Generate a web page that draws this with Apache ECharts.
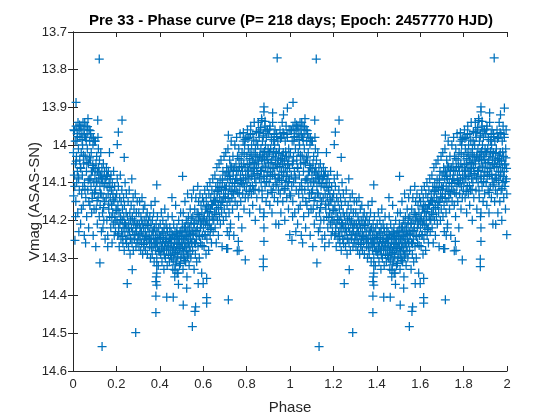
<!DOCTYPE html>
<html>
<head>
<meta charset="UTF-8">
<title>Pre 33 - Phase curve</title>
<script src="https://cdn.jsdelivr.net/npm/echarts@6/dist/echarts.min.js"></script>
<style>html,body{margin:0;padding:0;background:#fff;}</style>
</head>
<body>
<div id="chart" style="width:560px;height:420px;"></div>
<script>
// [phase, Vmag] for one cycle; the plot repeats it at phase + 1
const seg0 = [
  [0.002,14.02],[0.004,13.96],[0.006,14.08],[0.008,14.11],[0.010,13.99],[0.011,14.05],[0.013,14.15],[0.014,13.95],
  [0.016,14.03],[0.017,14.10],[0.019,13.97],[0.020,14.07],[0.022,14.18],[0.023,13.94],[0.025,14.01],[0.026,14.09],
  [0.028,13.96],[0.029,14.12],[0.031,14.04],[0.032,13.98],[0.034,14.06],[0.035,14.21],[0.037,13.95],[0.038,14.02],
  [0.040,14.13],[0.041,13.97],[0.043,14.08],[0.044,14.00],[0.046,13.94],[0.047,14.16],[0.049,14.05],[0.003,14.135],
  [0.012,14.19],[0.027,14.23],[0.018,13.99],[0.033,13.955],[0.045,14.11],[0.039,14.17],
  [0.051,13.96],[0.053,14.10],[0.054,13.94],[0.056,14.03],[0.057,13.98],[0.059,14.14],[0.060,13.95],[0.062,14.07],
  [0.063,14.19],[0.065,13.97],[0.066,14.01],[0.068,14.12],[0.069,13.93],[0.071,14.05],[0.072,14.22],[0.074,13.96],
  [0.075,14.09],[0.077,13.99],[0.078,14.16],[0.080,14.04],[0.081,13.97],[0.083,14.11],[0.084,14.02],[0.086,14.18],
  [0.087,13.98],[0.089,14.07],[0.090,14.13],[0.092,14.00],[0.093,14.24],[0.095,14.06],[0.096,14.10],[0.098,13.99],
  [0.058,14.26],[0.073,14.15],[0.082,14.09],[0.097,14.17],
  [0.101,14.08],[0.103,13.99],[0.104,14.12],[0.106,14.05],[0.107,14.17],[0.109,14.03],[0.110,14.10],[0.112,14.21],
  [0.113,14.07],[0.115,13.98],[0.116,14.14],[0.118,14.06],[0.119,14.09],[0.121,14.19],[0.122,14.04],[0.124,14.11],
  [0.125,14.16],[0.127,14.08],[0.128,14.02],[0.130,14.13],[0.131,14.23],[0.133,14.06],[0.134,14.10],[0.136,14.18],
  [0.137,14.09],[0.139,14.14],[0.140,14.05],[0.142,14.20],[0.143,14.11],[0.145,14.07],[0.146,14.15],[0.148,14.25],
  [0.105,14.27],[0.117,14.01],[0.138,14.22],
  [0.151,14.09],[0.153,14.14],[0.154,14.06],[0.156,14.20],[0.157,14.11],[0.159,14.08],[0.160,14.24],[0.162,14.13],
  [0.163,14.07],[0.165,14.17],[0.166,14.10],[0.168,14.02],[0.169,14.19],[0.171,14.09],[0.172,14.14],[0.174,14.22],
  [0.175,14.08],[0.177,14.12],[0.178,14.16],[0.180,14.26],[0.181,14.10],[0.183,14.18],[0.184,14.13],[0.186,14.21],
  [0.187,14.07],[0.189,14.15],[0.190,14.24],[0.192,14.11],[0.193,14.19],[0.195,14.14],[0.196,14.23],[0.198,14.17]
];
const seg1 = [
  [0.201,14.13],[0.203,14.20],[0.204,14.09],[0.206,14.24],[0.207,14.16],[0.209,14.11],[0.210,14.22],[0.212,14.18],
  [0.213,14.27],[0.215,14.14],[0.216,14.21],[0.218,14.08],[0.219,14.19],[0.221,14.25],[0.222,14.15],[0.224,14.23],
  [0.225,14.12],[0.227,14.20],[0.228,14.17],[0.230,14.26],[0.231,14.22],[0.233,14.14],[0.234,14.19],[0.236,14.28],
  [0.237,14.16],[0.239,14.23],[0.240,14.10],[0.242,14.21],[0.243,14.25],[0.245,14.18],[0.246,14.13],[0.248,14.22],
  [0.251,14.19],[0.253,14.24],[0.254,14.15],[0.256,14.27],[0.257,14.21],[0.259,14.12],[0.260,14.23],[0.262,14.18],
  [0.263,14.29],[0.265,14.20],[0.266,14.25],[0.268,14.16],[0.269,14.22],[0.271,14.09],[0.272,14.26],[0.274,14.19],
  [0.275,14.23],[0.277,14.14],[0.278,14.28],[0.280,14.21],[0.281,14.17],[0.283,14.25],[0.284,14.20],[0.286,14.24],
  [0.287,14.13],[0.289,14.22],[0.290,14.27],[0.292,14.18],[0.293,14.23],[0.295,14.26],[0.296,14.15],[0.298,14.21],
  [0.301,14.24],[0.303,14.18],[0.304,14.27],[0.306,14.21],[0.307,14.15],[0.309,14.25],[0.310,14.22],[0.312,14.28],
  [0.313,14.19],[0.315,14.23],[0.316,14.26],[0.318,14.14],[0.319,14.21],[0.321,14.29],[0.322,14.24],[0.324,14.17],
  [0.325,14.22],[0.327,14.27],[0.328,14.20],[0.330,14.25],[0.331,14.16],[0.333,14.23],[0.334,14.28],[0.336,14.21],
  [0.337,14.19],[0.339,14.26],[0.340,14.24],[0.342,14.18],[0.343,14.29],[0.345,14.22],[0.346,14.25],[0.348,14.20],
  [0.351,14.23],[0.353,14.27],[0.354,14.19],[0.356,14.25],[0.357,14.30],[0.359,14.21],[0.360,14.16],[0.362,14.26],
  [0.363,14.24],[0.365,14.29],[0.366,14.20],[0.368,14.23],[0.369,14.27],[0.371,14.18],[0.372,14.25],[0.374,14.31],
  [0.375,14.22],[0.377,14.26],[0.378,14.15],[0.380,14.24],[0.381,14.28],[0.383,14.21],[0.384,14.26],[0.386,14.30],
  [0.387,14.23],[0.389,14.19],[0.390,14.27],[0.392,14.25],[0.393,14.32],[0.395,14.22],[0.396,14.28],[0.398,14.24]
];
const seg2 = [
  [0.401,14.26],[0.402,14.21],[0.404,14.29],[0.405,14.24],[0.407,14.18],[0.408,14.27],[0.410,14.31],[0.411,14.23],
  [0.413,14.26],[0.414,14.20],[0.416,14.28],[0.417,14.25],[0.419,14.33],[0.420,14.22],[0.422,14.27],[0.423,14.17],
  [0.425,14.24],[0.426,14.30],[0.428,14.26],[0.429,14.21],[0.431,14.28],[0.432,14.25],[0.434,14.32],[0.435,14.23],
  [0.437,14.27],[0.438,14.19],[0.440,14.29],[0.441,14.26],[0.443,14.24],[0.444,14.31],[0.446,14.22],[0.447,14.28],
  [0.449,14.25],
  [0.451,14.27],[0.452,14.23],[0.454,14.30],[0.455,14.25],[0.457,14.19],[0.458,14.28],[0.460,14.33],[0.461,14.24],
  [0.463,14.27],[0.464,14.21],[0.466,14.29],[0.467,14.26],[0.469,14.35],[0.470,14.23],[0.472,14.28],[0.473,14.16],
  [0.475,14.25],[0.476,14.31],[0.478,14.27],[0.479,14.22],[0.481,14.29],[0.482,14.24],[0.484,14.34],[0.485,14.26],
  [0.487,14.20],[0.488,14.28],[0.490,14.25],[0.491,14.32],[0.493,14.23],[0.494,14.27],[0.496,14.18],[0.497,14.30],
  [0.499,14.26],[0.456,14.14],[0.486,14.37],
  [0.501,14.24],[0.502,14.29],[0.504,14.21],[0.505,14.27],[0.507,14.33],[0.508,14.18],[0.510,14.25],[0.511,14.30],
  [0.513,14.22],[0.514,14.27],[0.516,14.15],[0.517,14.24],[0.519,14.31],[0.520,14.26],[0.522,14.20],[0.523,14.28],
  [0.525,14.35],[0.526,14.23],[0.528,14.13],[0.529,14.26],[0.531,14.29],[0.532,14.19],[0.534,14.24],[0.535,14.32],
  [0.537,14.22],[0.538,14.27],[0.540,14.17],[0.541,14.25],[0.543,14.30],[0.544,14.21],[0.546,14.26],[0.547,14.14],
  [0.549,14.23],
  [0.551,14.28],[0.552,14.19],[0.554,14.24],[0.555,14.12],[0.557,14.21],[0.558,14.33],[0.560,14.26],[0.561,14.17],
  [0.563,14.23],[0.564,14.29],[0.566,14.14],[0.567,14.20],[0.569,14.25],[0.570,14.31],[0.572,14.18],[0.573,14.22],
  [0.575,14.11],[0.576,14.27],[0.578,14.20],[0.579,14.15],[0.581,14.24],[0.582,14.30],[0.584,14.19],[0.585,14.13],
  [0.587,14.22],[0.588,14.26],[0.590,14.16],[0.591,14.21],[0.593,14.34],[0.594,14.18],[0.596,14.24],[0.597,14.14],
  [0.599,14.20]
];
const seg3 = [
  [0.601,14.22],[0.602,14.15],[0.604,14.27],[0.605,14.19],[0.607,14.12],[0.608,14.24],[0.610,14.17],[0.611,14.21],
  [0.613,14.29],[0.614,14.14],[0.616,14.20],[0.617,14.25],[0.619,14.11],[0.620,14.18],[0.622,14.23],[0.623,14.16],
  [0.625,14.28],[0.626,14.13],[0.628,14.21],[0.629,14.19],[0.631,14.10],[0.632,14.24],[0.634,14.17],[0.635,14.14],
  [0.637,14.22],[0.638,14.26],[0.640,14.12],[0.641,14.19],[0.643,14.16],[0.644,14.09],[0.646,14.23],[0.647,14.15],
  [0.649,14.20],
  [0.651,14.13],[0.652,14.18],[0.654,14.08],[0.655,14.22],[0.657,14.15],[0.658,14.11],[0.660,14.26],[0.661,14.17],
  [0.663,14.06],[0.664,14.14],[0.666,14.20],[0.667,14.10],[0.669,14.16],[0.670,14.24],[0.672,14.12],[0.673,14.05],
  [0.675,14.19],[0.676,14.14],[0.678,14.09],[0.679,14.21],[0.681,14.16],[0.682,14.04],[0.684,14.12],[0.685,14.18],
  [0.687,14.27],[0.688,14.10],[0.690,14.15],[0.691,14.07],[0.693,14.20],[0.694,14.13],[0.696,14.03],[0.697,14.17],
  [0.699,14.11],
  [0.701,14.08],[0.702,14.14],[0.704,14.02],[0.705,14.19],[0.707,14.11],[0.708,14.06],[0.710,14.16],[0.711,14.23],
  [0.713,14.09],[0.714,14.01],[0.716,14.13],[0.717,14.07],[0.719,14.18],[0.720,14.11],[0.722,14.04],[0.723,14.15],
  [0.725,14.09],[0.726,14.21],[0.728,14.12],[0.729,13.99],[0.731,14.06],[0.732,14.14],[0.734,14.10],[0.735,14.17],
  [0.737,14.03],[0.738,14.08],[0.740,14.13],[0.741,14.24],[0.743,14.06],[0.744,14.11],[0.746,14.00],[0.747,14.15],
  [0.749,14.09],
  [0.751,14.05],[0.752,14.12],[0.754,13.98],[0.755,14.09],[0.757,14.16],[0.758,14.03],[0.760,14.10],[0.761,14.07],
  [0.763,14.19],[0.764,14.01],[0.766,14.13],[0.767,14.06],[0.769,14.11],[0.770,13.97],[0.772,14.08],[0.773,14.15],
  [0.775,14.04],[0.776,14.10],[0.778,14.22],[0.779,14.02],[0.781,14.07],[0.782,14.13],[0.784,13.99],[0.785,14.09],
  [0.787,14.05],[0.788,14.17],[0.790,14.11],[0.791,14.00],[0.793,14.06],[0.794,14.14],[0.796,14.08],[0.797,13.98],
  [0.799,14.12]
];
const seg4 = [
  [0.801,14.03],[0.802,14.10],[0.804,13.96],[0.805,14.07],[0.807,14.14],[0.808,14.01],[0.810,14.09],[0.811,13.98],
  [0.813,14.05],[0.814,14.18],[0.816,14.02],[0.817,14.11],[0.819,13.95],[0.820,14.06],[0.822,14.13],[0.823,14.00],
  [0.825,14.08],[0.826,14.04],[0.828,14.16],[0.829,13.97],[0.831,14.07],[0.832,14.12],[0.834,14.02],[0.835,13.94],
  [0.837,14.09],[0.838,14.05],[0.840,14.20],[0.841,14.01],[0.843,14.10],[0.844,13.99],[0.846,14.06],[0.847,14.14],
  [0.849,14.03],
  [0.851,14.00],[0.852,14.08],[0.854,13.94],[0.855,14.05],[0.857,14.12],[0.858,13.98],[0.860,14.03],[0.861,14.17],
  [0.863,13.96],[0.864,14.07],[0.866,14.01],[0.867,14.10],[0.869,13.93],[0.870,14.04],[0.872,14.14],[0.873,13.99],
  [0.875,14.06],[0.876,14.02],[0.878,14.19],[0.879,13.97],[0.881,14.09],[0.882,14.04],[0.884,13.95],[0.885,14.11],
  [0.887,14.00],[0.888,14.06],[0.890,14.15],[0.891,13.98],[0.893,14.03],[0.894,14.08],[0.896,13.96],[0.897,14.13],
  [0.899,14.01],
  [0.901,14.05],[0.902,13.97],[0.904,14.10],[0.905,14.02],[0.907,14.16],[0.908,13.95],[0.910,14.07],[0.911,14.01],
  [0.913,14.12],[0.914,13.98],[0.916,14.04],[0.917,14.18],[0.919,14.08],[0.920,13.94],[0.922,14.03],[0.923,14.11],
  [0.925,13.99],[0.926,14.06],[0.928,14.14],[0.929,14.00],[0.931,13.96],[0.932,14.09],[0.934,14.05],[0.935,14.21],
  [0.937,14.02],[0.938,13.97],[0.940,14.10],[0.941,14.06],[0.943,14.15],[0.944,13.99],[0.946,14.04],[0.947,14.12],
  [0.949,14.08],
  [0.951,14.01],[0.952,14.09],[0.954,13.96],[0.955,14.13],[0.957,14.04],[0.958,14.18],[0.960,13.98],[0.961,14.07],
  [0.963,14.11],[0.964,13.94],[0.966,14.05],[0.967,14.15],[0.969,14.02],[0.970,14.08],[0.972,13.97],[0.973,14.12],
  [0.975,14.04],[0.976,14.20],[0.978,13.99],[0.979,14.06],[0.981,14.10],[0.982,13.95],[0.984,14.03],[0.985,14.14],
  [0.987,14.07],[0.988,13.98],[0.990,14.11],[0.991,14.05],[0.993,14.17],[0.994,14.01],[0.996,13.96],[0.997,14.09],
  [0.999,14.13]
];
// denser cores of the cloud
const core = [
  [0.007,13.962],[0.015,14.043],[0.021,13.978],[0.024,14.085],[0.030,13.947],[0.036,14.062],[0.042,13.986],
  [0.048,14.027],[0.052,13.973],[0.055,14.118],[0.061,13.988],[0.064,14.046],[0.067,13.951],[0.070,14.093],
  [0.076,14.034],[0.079,13.962],[0.085,14.071],[0.088,14.142],[0.091,14.054],[0.094,13.982],[0.099,14.127],
  [0.102,14.063],[0.108,14.096],[0.111,14.148],[0.120,14.074],[0.126,14.128],[0.132,14.087],[0.141,14.166],
  [0.147,14.102],[0.155,14.083],[0.164,14.157],[0.170,14.113],[0.179,14.192],[0.185,14.146],[0.194,14.205],
  [0.202,14.174],[0.211,14.236],[0.220,14.198],[0.229,14.243],[0.238,14.207],[0.247,14.262],[0.255,14.221],
  [0.264,14.247],[0.273,14.196],[0.282,14.238],[0.291,14.212],[0.299,14.252],[0.308,14.236],[0.317,14.201],
  [0.326,14.264],[0.335,14.243],[0.344,14.214],[0.352,14.248],[0.361,14.273],[0.370,14.226],[0.379,14.262],
  [0.388,14.247],[0.397,14.283],[0.403,14.246],[0.409,14.276],[0.415,14.234],[0.421,14.292],[0.427,14.256],
  [0.433,14.221],[0.439,14.268],[0.445,14.247],[0.450,14.293],[0.453,14.262],[0.459,14.238],[0.462,14.305],
  [0.465,14.273],[0.468,14.247],[0.471,14.318],[0.474,14.286],[0.477,14.234],[0.480,14.263],[0.483,14.297],
  [0.489,14.243],[0.492,14.275],[0.495,14.314],[0.498,14.228],[0.503,14.262],[0.506,14.231],[0.509,14.284],
  [0.512,14.247],[0.515,14.306],[0.518,14.218],[0.521,14.273],[0.524,14.243],[0.527,14.295],[0.530,14.207],
  [0.533,14.261],[0.536,14.226],[0.539,14.282],[0.542,14.238],[0.545,14.194],[0.548,14.258],[0.553,14.236],
  [0.559,14.208],[0.565,14.262],[0.571,14.227],[0.577,14.185],[0.583,14.243],[0.589,14.204],[0.595,14.267],
  [0.603,14.196],[0.609,14.238],[0.615,14.164],[0.621,14.213],[0.627,14.177],[0.633,14.224],[0.639,14.158],
  [0.645,14.197],[0.653,14.147],[0.659,14.184],[0.665,14.124],[0.671,14.166],[0.677,14.113],[0.683,14.152],
  [0.689,14.093],[0.695,14.138],[0.703,14.117],[0.709,14.074],[0.715,14.142],[0.721,14.083],[0.727,14.056],
  [0.733,14.124],[0.739,14.067],[0.745,14.102],[0.753,14.068],[0.759,14.127],[0.765,14.036],[0.771,14.094],
  [0.777,14.057],[0.783,14.103],[0.789,14.024],[0.795,14.087],[0.803,14.052],[0.806,13.983],[0.809,14.067],
  [0.812,14.124],[0.815,14.036],[0.818,13.972],[0.821,14.084],[0.824,14.026],[0.827,14.108],[0.830,14.047],
  [0.833,13.987],[0.836,14.063],[0.839,14.118],[0.842,14.032],[0.845,13.964],[0.848,14.076],[0.853,14.043],
  [0.856,13.967],[0.859,14.087],[0.862,14.026],[0.865,13.954],[0.868,14.068],[0.871,14.122],[0.874,14.034],
  [0.877,13.976],[0.880,14.083],[0.883,14.017],[0.886,14.056],[0.889,13.963],[0.892,14.097],[0.895,14.038],
  [0.898,14.072],[0.903,14.024],[0.906,13.958],[0.909,14.083],[0.912,14.047],[0.915,13.986],[0.918,14.126],
  [0.921,14.063],[0.924,14.017],[0.927,13.972],[0.930,14.078],[0.933,14.034],[0.936,14.106],[0.939,13.978],
  [0.942,14.052],[0.945,14.088],[0.948,14.023],[0.953,14.057],[0.956,13.983],[0.959,14.036],[0.962,14.094],
  [0.965,14.027],[0.968,13.967],[0.971,14.072],[0.974,14.043],[0.977,14.116],[0.980,14.018],[0.983,14.084],
  [0.986,13.972],[0.989,14.053],[0.992,14.097],[0.995,14.034],[0.998,14.062]
];
const outliers = [
  [0.121,13.772],[0.941,13.769],[0.014,13.887],[0.114,13.934],[0.226,13.934],[0.209,13.966],[0.204,13.999],
  [0.236,14.033],[0.386,14.106],[0.505,14.083],[0.716,13.974],[0.880,13.899],[0.880,13.912],[0.988,13.902],
  [0.920,13.915],[0.970,13.920],[0.870,13.935],[0.885,13.937],[0.785,13.967],[0.793,13.985],
  [0.124,14.313],[0.273,14.331],[0.250,14.368],[0.134,14.535],[0.289,14.498],[0.382,14.401],[0.382,14.445],
  [0.432,14.404],[0.462,14.404],[0.382,14.363],[0.384,14.350],[0.052,14.240],[0.009,14.253],[0.160,14.270],
  [0.550,14.482],[0.716,14.411],[0.794,14.305],[0.877,14.303],[0.877,14.323],[0.562,14.442],[0.508,14.425],
  [0.616,14.420],[0.616,14.405],[0.762,14.256],[0.880,14.256],[0.757,14.281],[0.713,14.275],[0.948,14.211],
  [0.524,14.380],[0.577,14.368],[0.386,14.372],[0.386,14.340],[0.386,14.320],[0.470,14.332],[0.480,14.340],
  [0.600,14.368],[0.616,14.354],[0.708,14.275],[0.765,14.280],[0.720,14.240],[0.725,14.220],[0.880,14.220],
  [0.880,14.180],[0.999,14.238],[0.565,14.430]
];
const xTicks = [0, 0.2, 0.4, 0.6, 0.8, 1, 1.2, 1.4, 1.6, 1.8, 2];
const yTicks = [13.7, 13.8, 13.9, 14, 14.1, 14.2, 14.3, 14.4, 14.5, 14.6];

const cycle = [].concat(seg0, seg1, seg2, seg3, seg4, core, outliers);
const points = cycle.concat(cycle.map(d => [d[0] + 1, d[1]]));

const axisColor = '#262626';
const font = 'Liberation Sans, Arial, Helvetica, sans-serif';
const plus = 'path://M4.3,0H5.7V4.3H10V5.7H5.7V10H4.3V5.7H0V4.3H4.3Z';

const chart = echarts.init(document.getElementById('chart'));
const fmt = v => String(Math.round(v * 10) / 10);

chart.setOption({
  animation: false,
  title: {
    text: 'Pre 33 - Phase curve (P= 218 days; Epoch: 2457770 HJD)',
    left: 286, textAlign: 'center', top: 8,
    textStyle: { fontFamily: font, fontSize: 15, fontWeight: 'bold', color: '#000' }
  },
  grid: { left: 73, right: 53, top: 32, bottom: 47 },
  xAxis: [{
    type: 'value', min: xTicks[0], max: xTicks[xTicks.length - 1], interval: 0.2,
    name: 'Phase', nameLocation: 'middle', nameGap: 29, nameMoveOverlap: false,
    nameTextStyle: { fontFamily: font, fontSize: 15, color: axisColor },
    axisLine: { lineStyle: { color: axisColor, width: 1 } },
    axisTick: { inside: true, length: 5, lineStyle: { color: axisColor } },
    axisLabel: { fontFamily: font, fontSize: 13, color: axisColor, margin: 7, formatter: fmt },
    splitLine: { show: false }
  }, {
    type: 'value', position: 'top', min: xTicks[0], max: xTicks[xTicks.length - 1], interval: 0.2,
    axisLine: { show: true, lineStyle: { color: axisColor, width: 1 } },
    axisTick: { inside: true, length: 5, lineStyle: { color: axisColor } },
    axisLabel: { show: false }, splitLine: { show: false }
  }],
  yAxis: [{
    type: 'value', inverse: true, min: yTicks[0], max: yTicks[yTicks.length - 1], interval: 0.1,
    name: 'Vmag (ASAS-SN)', nameLocation: 'middle', nameGap: 31, nameMoveOverlap: false,
    nameTextStyle: { fontFamily: font, fontSize: 15, color: axisColor },
    axisLine: { show: true, lineStyle: { color: axisColor, width: 1 } },
    axisTick: { show: true, inside: true, length: 5, lineStyle: { color: axisColor } },
    axisLabel: { fontFamily: font, fontSize: 13, color: axisColor, margin: 6, formatter: fmt },
    splitLine: { show: false }
  }, {
    type: 'value', position: 'right', inverse: true, min: yTicks[0], max: yTicks[yTicks.length - 1], interval: 0.1,
    axisLine: { show: true, lineStyle: { color: axisColor, width: 1 } },
    axisTick: { show: true, inside: true, length: 5, lineStyle: { color: axisColor } },
    axisLabel: { show: false }, splitLine: { show: false }
  }],
  series: [{
    type: 'scatter',
    data: points,
    symbol: plus,
    symbolSize: 9,
    itemStyle: { color: '#0072BD', opacity: 1 },
    emphasis: { disabled: true },
    silent: true
  }]
});
</script>
</body>
</html>
